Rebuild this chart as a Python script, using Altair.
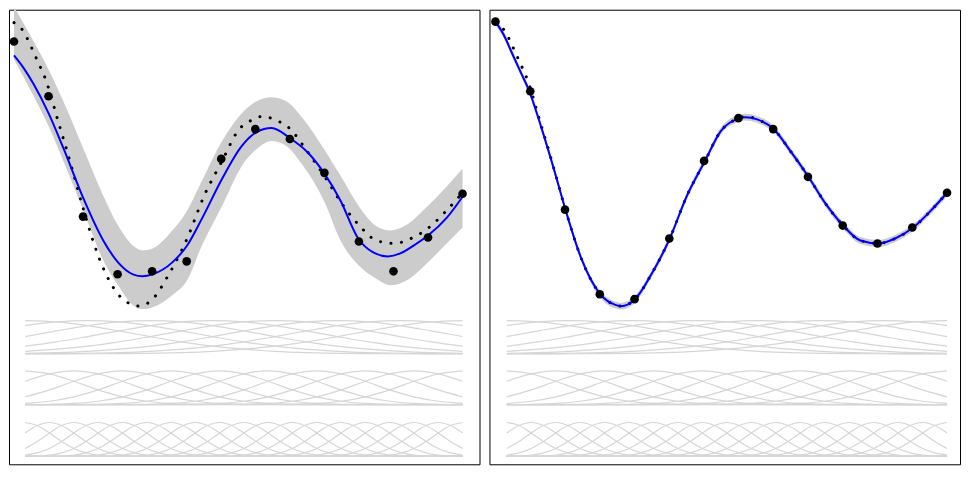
import altair as alt
import pandas as pd

# ---------------- data (x: fraction of sample range, y: signal value) -------------
sample_x = [0.0, 0.077, 0.154, 0.231, 0.308, 0.385, 0.462, 0.538, 0.615, 0.692, 0.769, 0.846, 0.923, 1.0]
noisy_y = [1.60, 1.05, -0.16, -0.74, -0.71, -0.61, 0.42, 0.72, 0.62, 0.28, -0.41, -0.71, -0.37, 0.07]
clean_y = [1.80, 1.10, -0.09, -0.94, -0.99, -0.38, 0.40, 0.83, 0.72, 0.24, -0.25, -0.43, -0.27, 0.08]

true_x = [0, 0.020, 0.033, 0.044, 0.055, 0.066, 0.075, 0.097, 0.115, 0.132, 0.155, 0.190, 0.232, 0.267,
          0.278, 0.309, 0.344, 0.386, 0.424, 0.464, 0.499, 0.541, 0.554, 0.578, 0.616, 0.653, 0.693,
          0.731, 0.770, 0.808, 0.848, 0.885, 0.925, 0.962, 1.0]
true_y = [1.79, 1.71, 1.60, 1.49, 1.38, 1.27, 1.16, 0.82, 0.55, 0.28, -0.09, -0.58, -0.94, -1.05,
          -1.06, -0.99, -0.75, -0.38, 0.05, 0.40, 0.70, 0.83, 0.85, 0.82, 0.72, 0.50, 0.24,
          -0.03, -0.25, -0.40, -0.43, -0.38, -0.27, -0.11, 0.08]

fitL_x = [0, 0.022, 0.044, 0.077, 0.110, 0.155, 0.199, 0.232, 0.265, 0.287, 0.309, 0.353, 0.386, 0.419,
          0.464, 0.508, 0.541, 0.574, 0.618, 0.656, 0.691, 0.728, 0.766, 0.801, 0.834, 0.861, 0.898,
          0.923, 0.965, 1.0]
fitL_y = [1.46, 1.33, 1.17, 0.88, 0.53, 0.02, -0.40, -0.62, -0.74, -0.76, -0.74, -0.62, -0.45, -0.18,
          0.22, 0.55, 0.69, 0.73, 0.62, 0.48, 0.28, 0.00, -0.37, -0.52, -0.56, -0.53, -0.43,
          -0.35, -0.17, 0.04]

bandL_x = [0, 0.044, 0.077, 0.110, 0.155, 0.199, 0.232, 0.265, 0.287, 0.309, 0.353, 0.386, 0.419, 0.464,
           0.508, 0.541, 0.574, 0.607, 0.640, 0.691, 0.728, 0.768, 0.806, 0.839, 0.872, 0.923, 0.960, 1.0]
bandL_hi = [1.95, 1.60, 1.32, 1.00, 0.52, 0.05, -0.25, -0.45, -0.50, -0.48, -0.30, -0.10, 0.20, 0.60,
            0.88, 1.00, 1.04, 1.00, 0.85, 0.52, 0.25, -0.05, -0.25, -0.30, -0.25, -0.05, 0.12, 0.32]
bandL_lo = [1.42, 1.05, 0.75, 0.40, -0.10, -0.60, -0.85, -1.05, -1.09, -1.07, -0.95, -0.80, -0.45, -0.05,
            0.35, 0.52, 0.60, 0.55, 0.38, 0.00, -0.40, -0.65, -0.78, -0.85, -0.81, -0.62, -0.45, -0.27]

fitR_x = [0, 0.018, 0.035, 0.055, 0.075, 0.102, 0.128, 0.155, 0.190, 0.232, 0.267, 0.278, 0.309, 0.344,
          0.386, 0.424, 0.464, 0.499, 0.541, 0.554, 0.578, 0.616, 0.653, 0.693, 0.731, 0.770, 0.808,
          0.848, 0.885, 0.925, 0.962, 1.0]
fitR_y = [1.80, 1.67, 1.50, 1.30, 1.10, 0.73, 0.34, -0.09, -0.58, -0.94, -1.05, -1.06, -0.99, -0.75,
          -0.38, 0.05, 0.40, 0.70, 0.83, 0.84, 0.82, 0.72, 0.50, 0.24, -0.03, -0.25, -0.40,
          -0.43, -0.38, -0.27, -0.11, 0.08]
bandR_half = 0.035

# basis bump shapes (height at half-spacing offsets from the centre), read from the rows
wide_bump = [1.0, 0.96, 0.85, 0.69, 0.52, 0.36, 0.23, 0.14, 0.074, 0.037, 0.017, 0.007, 0.003]
narrow_bump = [1.0, 0.91, 0.69, 0.435, 0.23, 0.10, 0.036, 0.011, 0.003]
basis_rows = [  # (intervals, shape, top value, base value)
    (7, wide_bump, -1.205, -1.54),
    (9, narrow_bump, -1.71, -2.05),
    (18, narrow_bump, -2.23, -2.57),
]
basis_x0, basis_x1 = 0.025, 1.0

Y_DOMAIN = [-2.65, 1.92]


def basis_frame():
    rows = []
    for r, (n, shape, top, base) in enumerate(basis_rows):
        for j in range(n + 1):
            for m in range(2 * n + 1):
                k = abs(m - 2 * j)
                h = shape[k] if k < len(shape) else 0.0
                t = m / (2 * n)
                rows.append({"x": basis_x0 + (basis_x1 - basis_x0) * t,
                             "y": base + h * (top - base),
                             "curve": f"r{r}c{j}"})
    return pd.DataFrame(rows)


def panel(pts_y, fit_x, fit_y, band_x, band_lo, band_hi, x_domain, width):
    xs = alt.Scale(domain=x_domain, nice=False, zero=False)
    ys = alt.Scale(domain=Y_DOMAIN, nice=False, zero=False)
    X = lambda f: alt.X(f, type="quantitative", scale=xs, axis=None)
    Y = lambda f: alt.Y(f, type="quantitative", scale=ys, axis=None)

    band = alt.Chart(pd.DataFrame({"x": band_x, "lo": band_lo, "hi": band_hi})).mark_area(
        color="#cccccc", clip=True, interpolate="monotone").encode(x=X("x"), y=Y("lo"), y2="hi")
    basis = alt.Chart(basis_frame()).mark_line(
        color="#d6d6d6", strokeWidth=1.2, interpolate="monotone", clip=True).encode(
        x=X("x"), y=Y("y"), detail="curve:N")
    truth = alt.Chart(pd.DataFrame({"x": true_x, "y": true_y})).mark_line(
        color="black", strokeWidth=3, strokeCap="round", strokeDash=[0.1, 10.5],
        interpolate="monotone", clip=True).encode(x=X("x"), y=Y("y"))
    fit = alt.Chart(pd.DataFrame({"x": fit_x, "y": fit_y})).mark_line(
        color="#0000ff", strokeWidth=2, interpolate="monotone", clip=True).encode(x=X("x"), y=Y("y"))
    pts = alt.Chart(pd.DataFrame({"x": sample_x, "y": pts_y})).mark_circle(
        color="black", opacity=1, size=75, clip=True).encode(x=X("x"), y=Y("y"))
    return alt.layer(band, basis, truth, fit, pts).properties(width=width, height=456)


left = panel(noisy_y, fitL_x, fitL_y, bandL_x, bandL_lo, bandL_hi, [-0.0111, 1.0378], 472)
right = panel(clean_y, fitR_x, fitR_y, fitR_x,
              [v - bandR_half for v in fitR_y], [v + bandR_half for v in fitR_y],
              [-0.01325, 1.0287], 472)

chart = alt.hconcat(left, right, spacing=8, padding=0).resolve_scale(
    x="independent", y="independent").configure_view(stroke="black", strokeWidth=1)

chart.save("out.html", embed_options={"renderer": "svg", "actions": False})
